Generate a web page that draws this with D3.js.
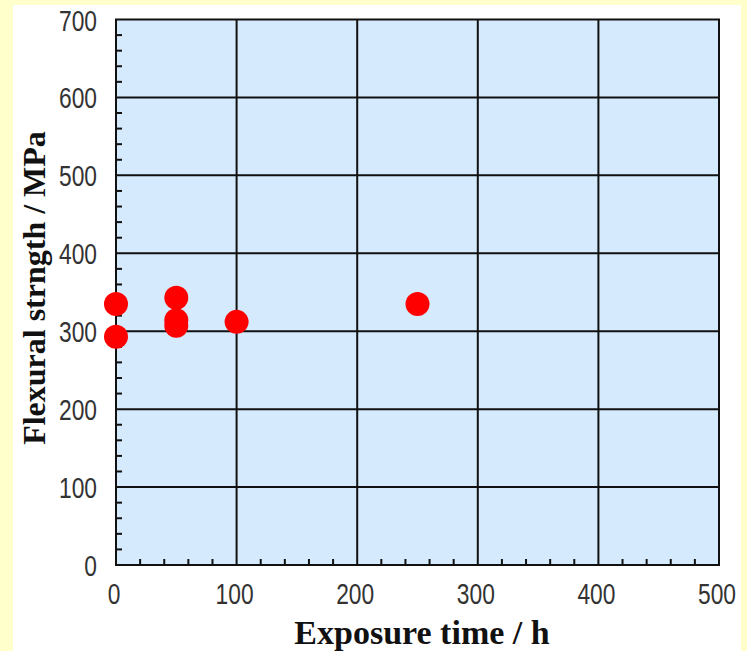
<!DOCTYPE html>
<html lang="en">
  <head>
    <meta charset="UTF-8" />
    <title>Flexural strength vs exposure time</title>
    <script src="https://d3js.org/d3.v7.min.js"></script>
    <style>
      body { margin: 0; background: #ffffcc; }
      svg { display: block; }
      .tick-label {
        font-family: "Liberation Sans", Arial, sans-serif;
        font-size: 30px;
        fill: #333;
      }
      .title {
        font-family: "Liberation Serif", "Times New Roman", serif;
        font-weight: bold;
        font-size: 34px;
        fill: #111;
      }
    </style>
  </head>
  <body>
    <svg id="chart" width="747" height="651"></svg>

    <script>
      // data
      const exposureTime = [0, 0, 50, 50, 50, 100, 250];
      const strength = [335, 293, 343, 314, 307, 312, 335];
      const xTicks = [0, 100, 200, 300, 400, 500];
      const yTicks = [0, 100, 200, 300, 400, 500, 600, 700];

      const svg = d3.select("#chart");

      // white panel on yellow page
      svg.append("rect")
        .attr("x", 13).attr("y", 5)
        .attr("width", 728).attr("height", 646)
        .attr("fill", "#fff");

      const x = d3.scaleLinear().domain([0, 500]).range([116, 719]);
      const y = d3.scaleLinear().domain([0, 700]).range([565, 19.5]);

      // plot area
      svg.append("rect")
        .attr("x", x(0)).attr("y", y(700))
        .attr("width", x(500) - x(0)).attr("height", y(0) - y(700))
        .attr("fill", "#d5eafc");

      // grid lines
      svg.append("g")
        .selectAll("line")
        .data(xTicks.slice(1, -1))
        .join("line")
        .attr("x1", (d) => x(d)).attr("x2", (d) => x(d))
        .attr("y1", y(0)).attr("y2", y(700))
        .attr("stroke", "#111").attr("stroke-width", 2);

      svg.append("g")
        .selectAll("line")
        .data(yTicks.slice(1, -1))
        .join("line")
        .attr("y1", (d) => y(d)).attr("y2", (d) => y(d))
        .attr("x1", x(0)).attr("x2", x(500))
        .attr("stroke", "#111").attr("stroke-width", 2);

      // minor ticks, inward
      const xMinor = d3.range(0, 501, 20).filter((d) => d % 100 !== 0);
      const yMinor = d3.range(0, 701, 20).filter((d) => d % 100 !== 0);

      svg.append("g")
        .selectAll("line")
        .data(xMinor)
        .join("line")
        .attr("x1", (d) => x(d)).attr("x2", (d) => x(d))
        .attr("y1", y(0)).attr("y2", y(0) - 6)
        .attr("stroke", "#111").attr("stroke-width", 2);

      svg.append("g")
        .selectAll("line")
        .data(yMinor)
        .join("line")
        .attr("y1", (d) => y(d)).attr("y2", (d) => y(d))
        .attr("x1", x(0)).attr("x2", x(0) + 6)
        .attr("stroke", "#111").attr("stroke-width", 2);

      // frame
      svg.append("rect")
        .attr("x", x(0)).attr("y", y(700))
        .attr("width", x(500) - x(0)).attr("height", y(0) - y(700))
        .attr("fill", "none")
        .attr("stroke", "#111").attr("stroke-width", 2);

      // tick labels (narrow look via horizontal squeeze)
      svg.append("g")
        .selectAll("text")
        .data(xTicks)
        .join("text")
        .attr("class", "tick-label")
        .attr("transform", (d) => `translate(${x(d) - 2},604) scale(0.76,1)`)
        .attr("text-anchor", "middle")
        .text((d) => d);

      svg.append("g")
        .selectAll("text")
        .data(yTicks)
        .join("text")
        .attr("class", "tick-label")
        .attr("transform", (d) => `translate(97,${y(d) + 11}) scale(0.76,1)`)
        .attr("text-anchor", "end")
        .text((d) => d);

      // axis titles
      svg.append("text")
        .attr("class", "title")
        .attr("x", 422).attr("y", 644)
        .attr("text-anchor", "middle")
        .text("Exposure time / h");

      svg.append("text")
        .attr("class", "title")
        .style("font-size", "32px")
        .attr("transform", "translate(45,288) rotate(-90)")
        .attr("text-anchor", "middle")
        .text("Flexural strngth / MPa");

      // points
      svg.append("g")
        .selectAll("circle")
        .data(exposureTime.map((t, i) => ({ t, s: strength[i] })))
        .join("circle")
        .attr("cx", (d) => x(d.t))
        .attr("cy", (d) => y(d.s))
        .attr("r", 12)
        .attr("fill", "#ff0000");
    </script>
  </body>
</html>
